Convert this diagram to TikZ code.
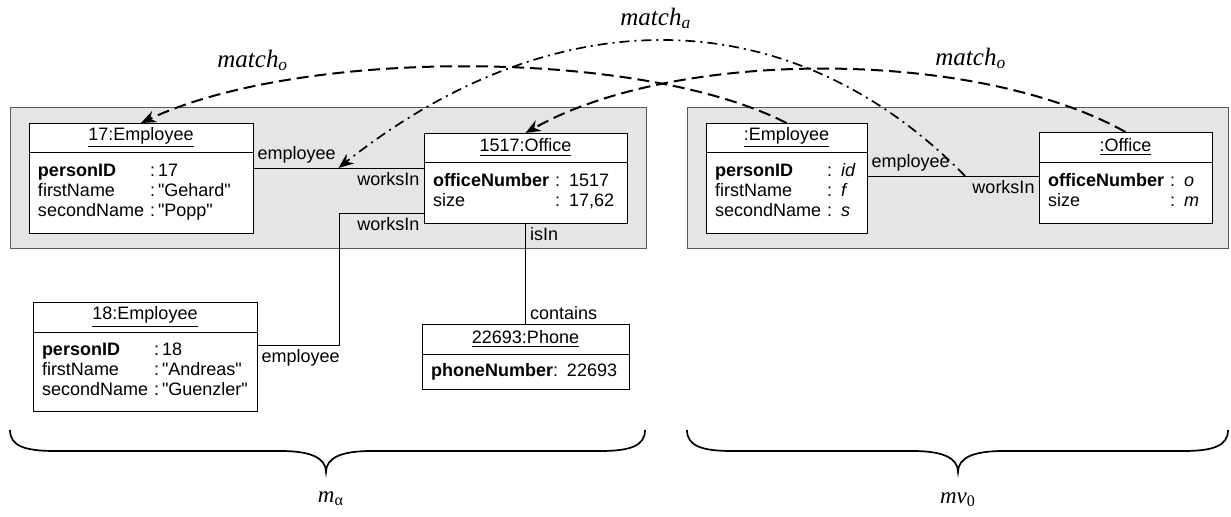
\documentclass[tikz,border=0pt]{standalone}
\usepackage{fontspec}
\setmainfont{Liberation Sans}
\newfontfamily\matchfont{Liberation Serif}
\usetikzlibrary{arrows.meta,positioning}

\begin{document}
\begin{tikzpicture}[x=0.5pt,y=-0.5pt,>={Stealth[length=7.5pt,width=6pt]},
  font=\fontsize{9}{9.8}\selectfont]

  \tikzstyle{model}=[draw=black!65,fill=black!10,line width=0.5pt]
  \tikzstyle{objhead}=[draw,fill=white,line width=0.5pt,outer sep=0pt,
                       inner sep=0pt,anchor=north west]
  \tikzstyle{objbody}=[draw,fill=white,line width=0.5pt,outer sep=0pt,
                       inner xsep=4.5pt,inner ysep=0pt,align=left]
  \tikzstyle{link}=[line width=0.5pt]
  \tikzstyle{role}=[inner sep=2pt]
  \tikzstyle{match}=[->,line width=1pt,dash pattern=on 6pt off 3pt]
  \tikzstyle{matchlink}=[->,line width=0.85pt,
                         dash pattern=on 5pt off 2.5pt on 1pt off 2.5pt]
  \tikzstyle{matchlabel}=[anchor=base west,inner sep=0pt,
                          font=\matchfont\itshape\fontsize{12.5}{14}\selectfont]
  \tikzstyle{modellabel}=[anchor=base,inner sep=0pt,
                          font=\matchfont\itshape\fontsize{11.5}{13}\selectfont]
  \tikzstyle{brace}=[line width=0.85pt]

  \useasboundingbox (0,0) rectangle (1231,516);

  % the two models
  \draw[model] (10,107) rectangle (646,248);
  \draw[model] (687,107) rectangle (1228,248);

  % m_alpha
  \node[objhead,minimum width=112pt,minimum height=14.5pt] (e17h) at (29,123) {\underline{17:Employee}};
  \node[objbody,text width=103pt,minimum height=40.5pt] (e17b) [below=0pt of e17h]
    {\begin{tabular}{@{}l@{ }l@{}}
      \textbf{personID} & :\,17\\
      firstName & :\,\textquotedbl Gehard\textquotedbl\\
      secondName & :\,\textquotedbl Popp\textquotedbl
    \end{tabular}};

  \node[objhead,minimum width=101.5pt,minimum height=14.5pt] (o1517h) at (424,133) {\underline{1517:Office}};
  \node[objbody,text width=92.5pt,minimum height=30.5pt] (o1517b) [below=0pt of o1517h]
    {\begin{tabular}{@{}l@{ }l@{}}
      \textbf{officeNumber} & : 1517\\
      size & : 17,62
    \end{tabular}};

  \node[objhead,minimum width=112pt,minimum height=15pt] (e18h) at (33,302) {\underline{18:Employee}};
  \node[objbody,text width=103pt,minimum height=39.5pt] (e18b) [below=0pt of e18h]
    {\begin{tabular}{@{}l@{ }l@{}}
      \textbf{personID} & :\,18\\
      firstName & :\,\textquotedbl Andreas\textquotedbl\\
      secondName & :\,\textquotedbl Guenzler\textquotedbl
    \end{tabular}};

  \node[objhead,minimum width=103.5pt,minimum height=15pt] (p22693h) at (422,324) {\underline{22693:Phone}};
  \node[objbody,text width=94.5pt,minimum height=17.5pt] (p22693b) [below=0pt of p22693h]
    {\textbf{phoneNumber}: 22693};

  % mv_0
  \node[objhead,minimum width=80.5pt,minimum height=14.5pt] (e0h) at (706,123) {\underline{:Employee}};
  \node[objbody,text width=71.5pt,minimum height=40.5pt] (e0b) [below=0pt of e0h]
    {\begin{tabular}{@{}l@{ }l@{}}
      \textbf{personID} & : \textit{id}\\
      firstName & : \textit{f}\\
      secondName & : \textit{s}
    \end{tabular}};

  \node[objhead,minimum width=86.5pt,minimum height=15pt] (ooh) at (1039,132) {\underline{:Office}};
  \node[objbody,text width=77.5pt,minimum height=30.5pt] (oob) [below=0pt of ooh]
    {\begin{tabular}{@{}l@{ }l@{}}
      \textbf{officeNumber} & : \textit{o}\\
      size & : \textit{m}
    \end{tabular}};

  % links
  \draw[link] ([yshift=-8pt]e17b.north east)
    -- node[role,above right,pos=0] {employee}
       node[role,below left,pos=1] {worksIn}
       coordinate[pos=0.5] (l17)
    ([yshift=-3pt]o1517b.north west);
  \draw[link] ([yshift=5pt]o1517b.south west)
    -- node[role,below left,pos=0] {worksIn} ++(-85,0)
    |- node[role,below right,pos=1] {employee} ([yshift=-6.5pt]e18b.north east);
  \draw[link] (o1517b.south)
    -- node[role,below right,pos=0] {isIn}
       node[role,above right,pos=1] {contains}
    (p22693h.north);
  \draw[link] ([yshift=-12pt]e0b.north east)
    -- node[role,above right,pos=0] {employee}
       node[role,below left,pos=1] {worksIn}
       coordinate[pos=0.57] (l0)
    ([yshift=-7pt]oob.north west);

  % matches
  \draw[match] (e0h.north) .. controls (640,48) and (300,48) .. (e17h.north);
  \draw[match] (ooh.north) .. controls (975,48) and (675,48) .. (o1517h.north);
  \draw[matchlink] (l0) .. controls (790,-3) and (554,-3) .. (l17);

  \node[matchlabel] (mo1) at (217,67) {match\textsubscript{o}};
  \node[matchlabel] (ma) at (620,25) {match\textsubscript{a}};
  \node[matchlabel] (mo2) at (935,65) {match\textsubscript{o}};

  % braces
  \draw[brace] (10,430) .. controls (10,446) and (25,451) .. (55,451) -- (281,451)
    .. controls (311,451) and (326,458) .. (326,472)
    .. controls (326,458) and (341,451) .. (371,451) -- (600,451)
    .. controls (630,451) and (645,446) .. (645,430);
  \draw[brace] (687,430) .. controls (687,446) and (702,451) .. (732,451) -- (913,451)
    .. controls (943,451) and (958,458) .. (958,472)
    .. controls (958,458) and (973,451) .. (1003,451) -- (1183,451)
    .. controls (1213,451) and (1228,446) .. (1228,430);

  \node[modellabel] (malpha) at (331,502) {m\textsubscript{\upshape α}};
  \node[modellabel] (mvnull) at (958,503) {mv\textsubscript{\upshape 0}};

\end{tikzpicture}
\end{document}
